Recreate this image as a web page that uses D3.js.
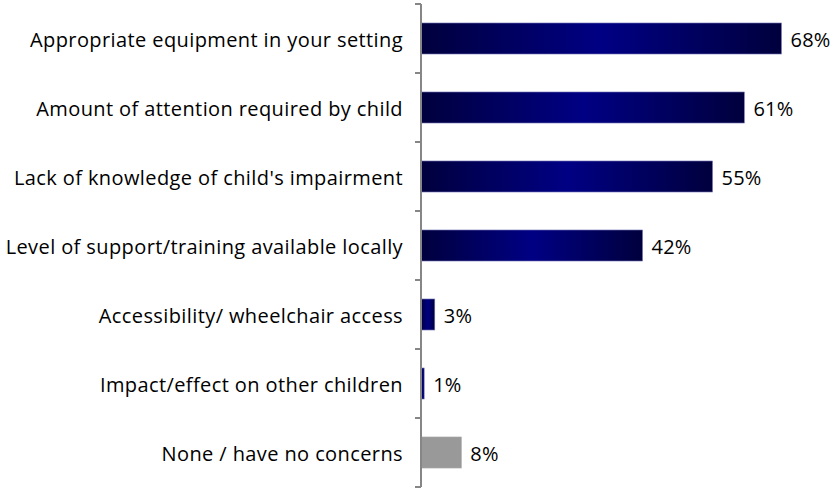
<!DOCTYPE html>
<html><head><meta charset="utf-8">
<script src="https://cdn.jsdelivr.net/npm/d3@7"></script>
<style>html,body{margin:0;padding:0;background:#fff;}svg{display:block;}</style>
</head><body>
<svg id="c" width="834" height="489"></svg>
<script>
const categories = [
  "Appropriate equipment in your setting",
  "Amount of attention required by child",
  "Lack of knowledge of child's impairment",
  "Level of support/training available locally",
  "Accessibility/ wheelchair access",
  "Impact/effect on other children",
  "None / have no concerns"
];
const values = [68, 61, 55, 41.8, 2.6, 0.6, 7.6];
const valueLabels = ["68%", "61%", "55%", "42%", "3%", "1%", "8%"];
const barKinds = ["blue","blue","blue","blue","blue","blue","grey"];

(function(){
const svg = d3.select("#c");
const x0 = 421, yTop = 4, yBottom = 487;
const x = d3.scaleLinear().domain([0, 68]).range([x0, 781.5]);
const y = d3.scaleBand().domain(categories).range([yTop, yBottom]).paddingInner(0.55).paddingOuter(0.275);
const yTicks = d3.scaleBand().domain(categories).range([yTop, yBottom]);

const defs = svg.append("defs");
const g = defs.append("linearGradient").attr("id","gb").attr("x1","0").attr("x2","1").attr("y1","0").attr("y2","0");
g.append("stop").attr("offset","0").attr("stop-color","#00003d");
g.append("stop").attr("offset","0.5").attr("stop-color","#000084");
g.append("stop").attr("offset","1").attr("stop-color","#00003d");

svg.selectAll("rect.bar").data(categories).join("rect")
  .attr("class","bar")
  .attr("x", x0)
  .attr("y", d => y(d))
  .attr("width", (d,i) => x(values[i]) - x0)
  .attr("height", y.bandwidth())
  .attr("fill", (d,i) => barKinds[i] === "grey" ? "#999999" : "url(#gb)")
  .attr("stroke", (d,i) => barKinds[i] === "grey" ? "#a6a6a6" : "#8080c0")
  .attr("stroke-width", 0.6);

const axis = svg.append("g").attr("stroke","#868686").attr("stroke-width",2);
axis.append("line").attr("x1",x0).attr("x2",x0).attr("y1",yTop).attr("y2",yBottom);
const tickYs = categories.map(c => yTicks(c)).concat([yBottom]);
axis.selectAll("line.t").data(tickYs).join("line").attr("class","t")
  .attr("x1", x0-6).attr("x2", x0).attr("y1", d => d).attr("y2", d => d);

svg.selectAll("text.cat").data(categories).join("text")
  .attr("class","cat")
  .attr("x", 403)
  .attr("y", d => y(d) + y.bandwidth()/2)
  .attr("dy","0.43em")
  .attr("text-anchor","end")
  .attr("font-family","'Open Sans', sans-serif")
  .attr("font-size", 20)
  .attr("letter-spacing", 0.4)
  .attr("fill","#000")
  .text(d => d);

svg.selectAll("text.val").data(categories).join("text")
  .attr("class","val")
  .attr("x", (d,i) => x(values[i]) + 9)
  .attr("y", d => y(d) + y.bandwidth()/2)
  .attr("dy","0.43em")
  .attr("font-family","'Open Sans', sans-serif")
  .attr("font-size", 20)
  .attr("letter-spacing", 0.2)
  .attr("fill","#000")
  .text((d,i) => valueLabels[i]);
})();
</script>
</body></html>
